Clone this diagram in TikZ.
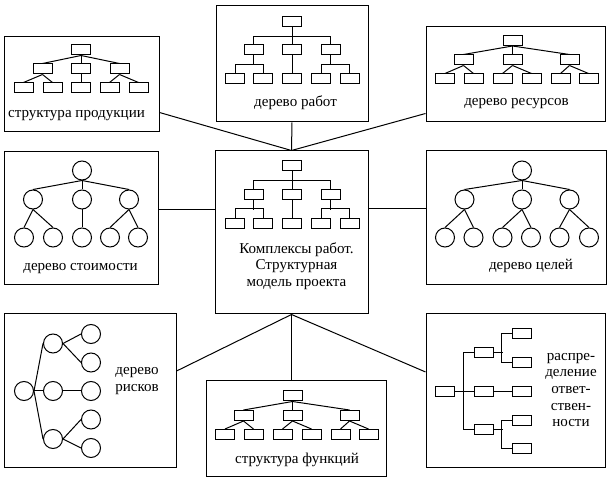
\documentclass[tikz,border=0pt]{standalone}
\usepackage{fontspec}
\setmainfont{Liberation Serif}
\usetikzlibrary{fit}

\begin{document}
\begin{tikzpicture}[
  x=0.75pt, y=-0.75pt, line width=0.75pt,
  frame/.style={draw,rectangle,inner sep=0pt},
  rbox/.style={draw,rectangle,inner sep=0pt,minimum width=14.25pt,minimum height=7.5pt},
  cnode/.style={draw,circle,inner sep=0pt,minimum size=14.25pt},
  lbl/.style={font=\fontsize{11.3}{12.5}\selectfont,align=center,inner sep=0pt}
]
\useasboundingbox (0,0) rectangle (614,484);

% frames
\node[frame,fit={(4,37) (159,132)}] (prod) {};
\node[frame,fit={(216,6) (368,122)}] (works) {};
\node[frame,fit={(426,27) (605,122)}] (res) {};
\node[frame,fit={(4,152) (158,285)}] (cost) {};
\node[frame,fit={(215,151) (368,314)}] (main) {};
\node[frame,fit={(426,151) (606,285)}] (goals) {};
\node[frame,fit={(4,314) (176,467)}] (risk) {};
\node[frame,fit={(206,381) (386,476)}] (func) {};
\node[frame,fit={(426,314) (605,467)}] (resp) {};

% links to the central model
\draw ([yshift=15pt]prod.south east) -- (main.north);
\draw (works.south) -- (main.north);
\draw ([yshift=6.75pt]res.south west) -- (main.north);
\draw ([yshift=7pt]cost.east) -- ([yshift=7pt]cost.east -| main.west);
\draw ([yshift=7pt]goals.west) -- ([yshift=7pt]goals.west -| main.east);
\draw (main.south) -- ([yshift=14.6pt]risk.east);
\draw (main.south) -- (main.south |- func.north);
\draw (main.south) -- ([yshift=13.9pt]resp.west);

% product structure
\node[rbox] (p0) at (81,50) {};
\foreach \i/\x in {1/42.5,2/81,3/119.5} \node[rbox] (p\i) at (\x,69) {};
\foreach \i/\x in {1/23.5,2/52.5,3/81,4/109.5,5/138.5} \node[rbox] (pl\i) at (\x,88) {};
\foreach \i in {1,2,3} \draw (p0.south) -- (p\i.north);
\foreach \m/\l in {1/1,1/2,2/3,3/4,3/5} \draw (p\m.south) -- (pl\l.north);

% work breakdown (top and centre)
\foreach \n/\dy in {w/0,c/144.5}{
  \begin{scope}[shift={(0,\dy)}]
  \node[rbox] (\n0) at (292,21.5) {};
  \foreach \i/\x in {1/253.5,2/292,3/330.5} \node[rbox] (\n\i) at (\x,50) {};
  \foreach \i/\x in {1/235,2/263,3/292,4/321,5/349.5} \node[rbox] (\n l\i) at (\x,79) {};
  \end{scope}
  \draw (\n0.south) -- (\n2.north);
  \draw (\n1.north) -- ++(0,-8) -| (\n3.north);
  \draw (\n1.south) -- ++(0,10);
  \draw (\n l1.north) -- ++(0,-9) -| (\n l2.north);
  \draw (\n2.south) -- (\n l3.north);
  \draw (\n3.south) -- ++(0,10);
  \draw (\n l4.north) -- ++(0,-9) -| (\n l5.north);
}

% resources and functions
\foreach \n/\dx/\dy in {r/0/0,f/-220/355.5}{
  \begin{scope}[shift={(\dx,\dy)}]
  \node[rbox] (\n0) at (512.5,40.5) {};
  \foreach \i/\x in {1/463.5,2/512.5,3/569.5} \node[rbox] (\n\i) at (\x,60) {};
  \foreach \i/\x in {1/445,2/473.5,3/502.5,4/531.5,5/560.5,6/588.5} \node[rbox] (\n l\i) at (\x,79) {};
  \end{scope}
  \foreach \i in {1,2,3} \draw (\n0.south) -- (\n\i.north);
  \foreach \m/\l in {1/1,1/2,2/3,2/4,3/5,3/6} \draw (\n\m.south) -- (\n l\l.north);
}

% cost tree
\node[cnode] (s0) at (82,170.5) {};
\foreach \i/\x in {1/33,2/82,3/129} \node[cnode] (s\i) at (\x,199.5) {};
\foreach \i/\x in {1/24,2/53,3/82,4/110,5/138} \node[cnode] (sl\i) at (\x,237.5) {};
\foreach \i in {1,2,3} \draw (s0.south) -- (s\i.north);
\foreach \m/\l in {1/1,1/2,2/3,3/4,3/5} \draw (s\m.south) -- (sl\l.north);

% goal tree
\node[cnode] (g0) at (522,170.5) {};
\foreach \i/\x in {1/464.5,2/522,3/569.5} \node[cnode] (g\i) at (\x,199.5) {};
\foreach \i/\x in {1/445,2/473.5,3/502.5,4/531,5/559.5,6/589} \node[cnode] (gl\i) at (\x,237.5) {};
\foreach \i in {1,2,3} \draw (g0.south) -- (g\i.north);
\foreach \m/\l in {1/1,1/2,2/3,2/4,3/5,3/6} \draw (g\m.south) -- (gl\l.north);

% risk tree
\node[cnode] (k0) at (24,391) {};
\foreach \i/\y in {1/343.5,2/391,3/439} \node[cnode] (k\i) at (53,\y) {};
\foreach \i/\y in {1/334,2/362.5,3/391,4/419.5,5/448} \node[cnode] (kl\i) at (91,\y) {};
\foreach \i in {1,2,3} \draw (k0.east) -- (k\i.west);
\foreach \m/\l in {1/1,1/2,2/3,3/4,3/5} \draw (k\m.east) -- (kl\l.west);

% responsibility
\node[rbox] (q0) at (445,391.5) {};
\foreach \i/\y in {1/352.5,2/391.5,3/429.5} \node[rbox] (q\i) at (483.5,\y) {};
\foreach \i/\y in {1/333.5,2/362.5,3/391.5,4/420.5,5/448.5} \node[rbox] (ql\i) at (521.5,\y) {};
\draw (q0.east) -- (q2.west);
\draw (q1.west) -- ++(-10,0) |- (q3.west);
\draw (q1.east) -- ++(9,0);
\draw (ql1.west) -- ++(-10,0) |- (ql2.west);
\draw (q2.east) -- (ql3.west);
\draw (q3.east) -- ++(9,0);
\draw (ql4.west) -- ++(-10,0) |- (ql5.west);

% labels
\node[lbl,anchor=base] (prodtxt) at (76.5,117.5) {структура продукции};
\node[lbl,anchor=base] (workstxt) at (295.5,107) {дерево работ};
\node[lbl,anchor=base] (restxt) at (516.5,106) {дерево ресурсов};
\node[lbl,anchor=base] (costtxt) at (80.5,271) {дерево стоимости};
\node[lbl] (maintxt) at (296.5,266) {Комплексы работ.\\Структурная\\модель проекта};
\node[lbl,anchor=base] (goalstxt) at (531,269.5) {дерево целей};
\node[lbl] (risktxt) at (137,381) {дерево\\рисков};
\node[lbl,anchor=base] (functxt) at (297,463) {структура функций};
\node[lbl] (resptxt) at (571,390) {распре-\\деление\\ответ-\\ствен-\\ности};
\end{tikzpicture}
\end{document}
